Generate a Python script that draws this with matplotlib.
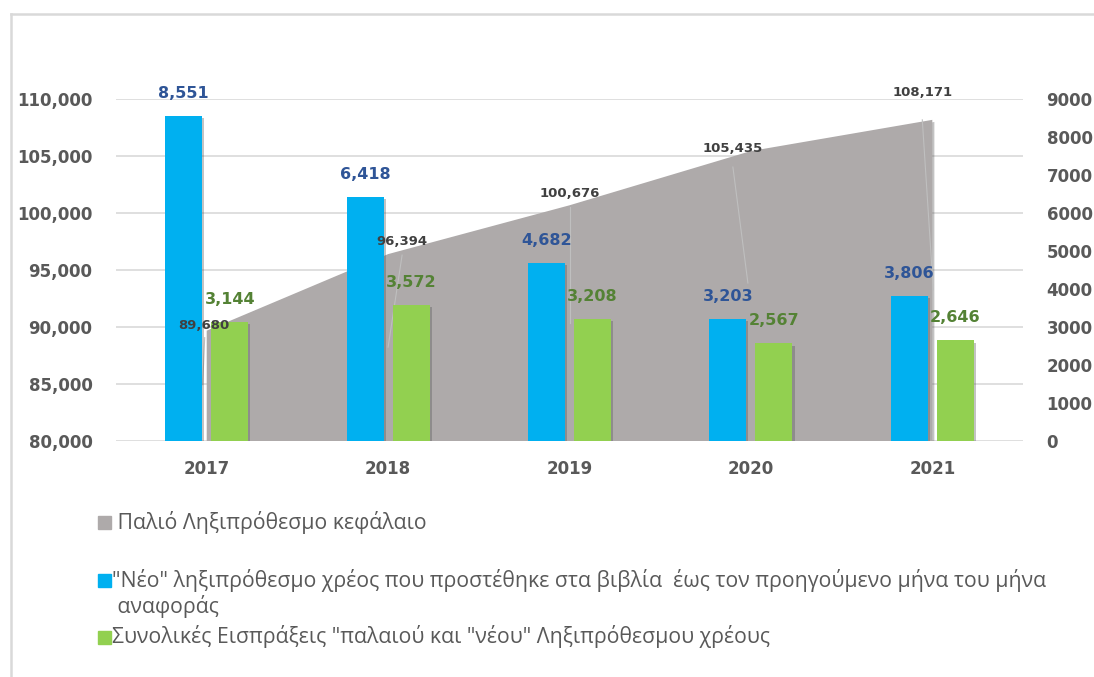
import matplotlib.pyplot as plt
import matplotlib.patheffects as pe
from matplotlib.lines import Line2D
from matplotlib.patches import Rectangle
from matplotlib.transforms import IdentityTransform
import numpy as np

## Data
years = ['2017', '2018', '2019', '2020', '2021']
old_capital = [89680, 96394, 100676, 105435, 108171]   # grey area, left axis
new_debt = [8551, 6418, 4682, 3203, 3806]              # blue bars, right axis
collections = [3144, 3572, 3208, 2567, 2646]           # green bars, right axis
left_ticks = list(range(80000, 110001, 5000))
right_ticks = list(range(0, 9001, 1000))

legend_labels = [[' Παλιό Ληξιπρόθεσμο κεφάλαιο'],
                 ['"Νέο" ληξιπρόθεσμο χρέος που προστέθηκε στα βιβλία  έως τον προηγούμενο μήνα του μήνα',
                  ' αναφοράς'],
                 ['Συνολικές Εισπράξεις "παλαιού και "νέου" Ληξιπρόθεσμου χρέους']]

## Styles
c_area, c_blue, c_green = '#AEAAAA', '#00B0F0', '#92D050'
c_tick = '#595959'
num_font = ['DejaVu Sans']
txt_font = ['Open Sans', 'DejaVu Sans']
shadow = [pe.SimplePatchShadow(offset=(1.5, -1.5), shadow_rgbFace='#555555', alpha=0.35), pe.Normal()]
tick_kw = dict(fontsize=12, fontweight='bold', color=c_tick, family=num_font)

fig = plt.figure(figsize=(10.94, 6.77), dpi=100)
ax = fig.add_axes([116/1094, 1-441/677, 907/1094, 342/677])
ax2 = ax.twinx()

x = np.arange(len(years))

# grey area on left axis
ax.set_axisbelow(True)
ax.fill_between(x, old_capital, 80000, color=c_area, lw=0, zorder=2, path_effects=shadow)
ax.set_ylim(80000, 110000)
ax.set_yticks(left_ticks)
ax.set_yticklabels([f'{v:,}' for v in left_ticks], **tick_kw)
ax.grid(axis='y', color='#D9D9D9', lw=1.2)
ax.set_xlim(-0.5, len(years) - 0.5)
ax.set_xticks(x)
ax.set_xticklabels(years, **tick_kw)

# bars on right axis
w = 0.204
off = 0.127
b1 = ax2.bar(x - off, new_debt, w, color=c_blue, zorder=3)
b2 = ax2.bar(x + off, collections, w, color=c_green, zorder=3)
for b in list(b1) + list(b2):
    b.set_path_effects(shadow)
ax2.set_ylim(0, 9000)
ax2.set_yticks(right_ticks)
ax2.set_yticklabels([str(v) for v in right_ticks], **tick_kw)

for a in (ax, ax2):
    for s in a.spines.values():
        s.set_visible(False)
    a.tick_params(length=0)
ax.tick_params(axis='y', pad=17)
ax.tick_params(axis='x', pad=14)
ax2.tick_params(axis='y', pad=17)

# bar value labels
for i in x:
    ax2.annotate(f'{new_debt[i]:,}', (i - off, new_debt[i]), xytext=(0, 15), textcoords='offset pixels',
                 ha='center', va='bottom', fontsize=11.5, fontweight='bold', color='#2F5597', family=num_font)
    ax2.annotate(f'{collections[i]:,}', (i + off, collections[i]), xytext=(0, 15), textcoords='offset pixels',
                 ha='center', va='bottom', fontsize=11.5, fontweight='bold', color='#548235', family=num_font)

# area labels (moved by hand in the original, with leader lines)
lab_off = [(-3, 5), (14, 13), (0, 12), (-18, 3), (-10, 27)]
lead_top = [(-2, -7), (14, -1), (0, -2), (-18, -16), (-10, 0)]
lead_bot = [(-4, -54), (0, -93), (0, -118), (-3, -132), (1, -170)]
for i in x:
    ax2.annotate(f'{old_capital[i]:,}', (i, old_capital[i]), xycoords=ax.transData,
                 xytext=lab_off[i], textcoords='offset pixels',
                 ha='center', va='center', fontsize=9.5, fontweight='bold', color='#404040',
                 family=num_font, zorder=6)
    px, py = ax.transData.transform((i, old_capital[i]))
    ax.add_line(Line2D([px + lead_top[i][0], px + lead_bot[i][0]],
                       [py + lead_top[i][1], py + lead_bot[i][1]],
                       transform=IdentityTransform(), color='#BFBFBF', lw=0.8, zorder=4))

# legend drawn by hand below the plot
leg_colors = [c_area, c_blue, c_green]
leg_y = [522, 580, 637]
for col, lines, yy in zip(leg_colors, legend_labels, leg_y):
    fig.patches.append(Rectangle((98/1094, 1-(yy+6.5)/677), 13/1094, 13/677,
                                 transform=fig.transFigure, color=col))
    for k, line in enumerate(lines):
        fig.text(112/1094, 1-(yy + 26*k)/677, line, ha='left', va='center', fontsize=15.3,
                 color=c_tick, family=txt_font)

# chart border
fig.add_artist(Line2D([11/1094, 11/1094], [0, 1-14/677], color='#D9D9D9', lw=1.8))
fig.add_artist(Line2D([11/1094, 1], [1-14/677, 1-14/677], color='#D9D9D9', lw=1.8))

fig.savefig('out.png', dpi=100)
